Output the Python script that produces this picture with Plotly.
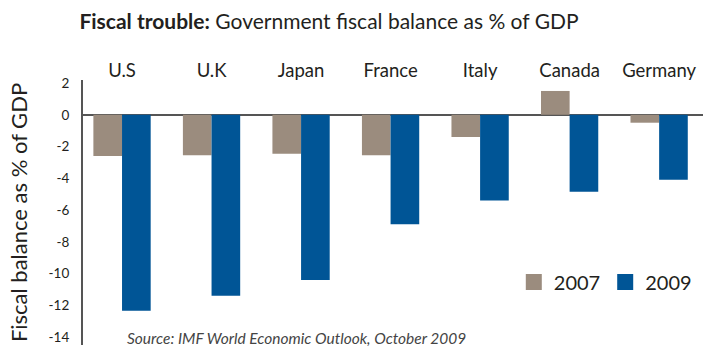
import plotly.graph_objects as go

countries = ["U.S", "U.K", "Japan", "France", "Italy", "Canada", "Germany"]
y2007 = [-2.6, -2.55, -2.45, -2.55, -1.4, 1.5, -0.5]
y2009 = [-12.35, -11.4, -10.4, -6.9, -5.4, -4.85, -4.1]
yticks = [2, 0, -2, -4, -6, -8, -10, -12, -14]
series_names = ["2007", "2009"]
colors = ["#9b8c7e", "#005596"]

FONT = "Lato"
TXT = "#231f20"

fig = go.Figure()
for name, vals, col in zip(series_names, [y2007, y2009], colors):
    fig.add_trace(go.Bar(x=countries, y=vals, name=name, showlegend=False,
                         marker=dict(color=col, line=dict(width=0))))
# legend entries with larger square swatches
for name, col in zip(series_names, colors):
    fig.add_trace(go.Scatter(x=[None], y=[None], mode="markers", name=name,
                             marker=dict(symbol="square", size=16, color=col)))

fig.update_layout(
    width=703, height=349,
    margin=dict(l=83, r=0, t=80, b=4),
    paper_bgcolor="white", plot_bgcolor="white",
    barmode="group", bargap=0.36, bargroupgap=0,
    font=dict(family=FONT, color=TXT),
    showlegend=True,
    legend=dict(orientation="h", x=0.99, xanchor="right", y=0.238, yanchor="middle",
                font=dict(size=20, color=TXT), traceorder="normal",
                bgcolor="rgba(0,0,0,0)"),
    title=dict(text="<b>Fiscal trouble:</b> Government fiscal balance as % of GDP",
               xref="container", x=0.468, xanchor="center", y=0.937, yanchor="middle",
               font=dict(size=21, color=TXT, family=FONT)),
)
fig.update_xaxes(side="top", range=[-0.436, 6.49], showline=False, ticks="",
                 tickfont=dict(size=18.5, color=TXT), showgrid=False, zeroline=False,
                 ticklabelstandoff=-2)
fig.update_yaxes(range=[-14.5, 2.19], tickvals=yticks, ticktext=[str(v) for v in yticks],
                 showgrid=False, zeroline=True, zerolinecolor="#555555", zerolinewidth=2,
                 showline=True, linecolor="#555555", linewidth=2, ticks="",
                 tickfont=dict(size=13.5, color=TXT), ticklabelstandoff=9,
                 title=dict(text="Fiscal balance as % of GDP", font=dict(size=22, color=TXT), standoff=15))
fig.add_annotation(text="<i>Source: IMF World Economic Outlook, October 2009</i>",
                   xref="paper", yref="paper", x=0.068, y=-0.015, xanchor="left", yanchor="bottom",
                   showarrow=False, font=dict(size=15.5, color="#444444", family=FONT))
fig.write_html("out.html")
